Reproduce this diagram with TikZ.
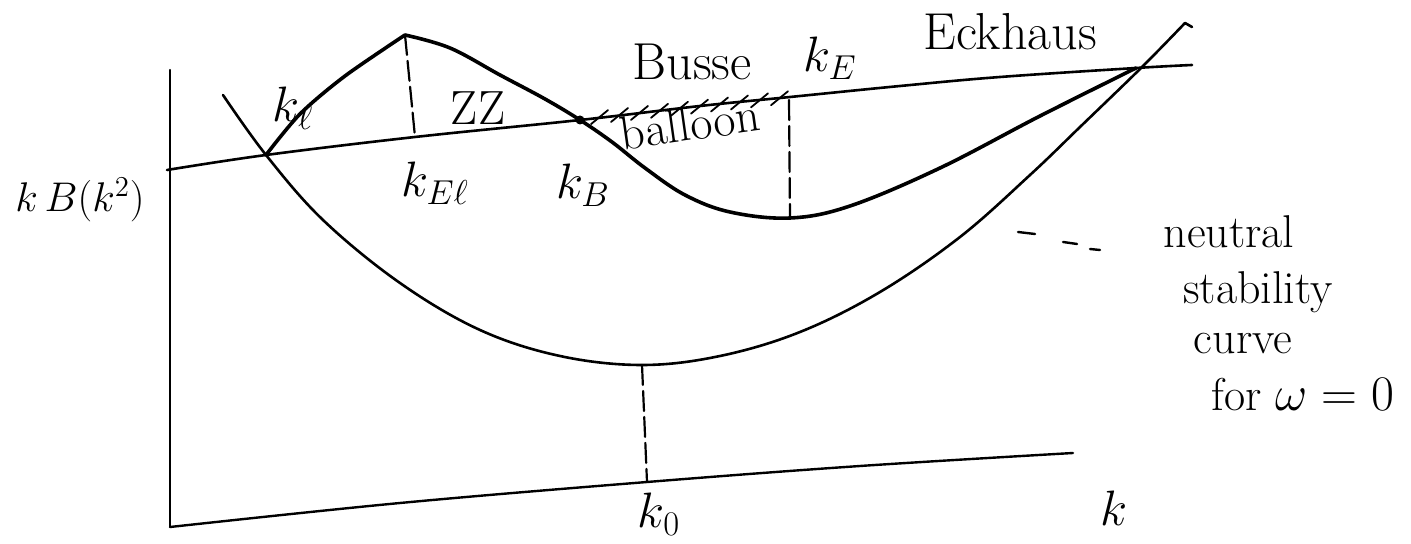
\documentclass[tikz,border=0pt]{standalone}
\begin{document}
\begin{tikzpicture}[x=0.5pt,y=-0.5pt,line cap=round,line join=round,
  ax/.style={line width=1.2pt},
  crv/.style={line width=1.3pt},
  thk/.style={line width=1.8pt},
  dsh/.style={line width=1.1pt,dash pattern=on 10pt off 3pt},
  hatch/.style={line width=0.9pt},
  lbl/.style={inner sep=0pt,font=\fontsize{24}{28}\selectfont},
  big/.style={inner sep=0pt,font=\fontsize{26}{30}\selectfont},
  note/.style={inner sep=0pt,font=\fontsize{23}{27}\selectfont}]
\useasboundingbox (0,0) rectangle (1411,544);
% key points
\coordinate (yTop) at (170,70);
\coordinate (orig) at (170,527);
\coordinate (xEnd) at (1073,453);
\coordinate (lStart) at (167,170);
\coordinate (lEnd) at (1192,65);
\coordinate (kL) at (266,155);
\coordinate (peak) at (405,35);
\coordinate (kELpt) at (415,137);
\coordinate (kBpt) at (580,120);
\coordinate (kEtop) at (789,100);
\coordinate (kEbot) at (790,218);
\coordinate (nMin) at (642,365);
\coordinate (k0pt) at (647,482);
\coordinate (meet) at (1136,68);
% axes
\draw[ax] (yTop) -- (orig);
\draw[ax] plot[smooth,tension=0.6] coordinates {(orig) (400,503) (k0pt) (860,466) (xEnd)};
% almost horizontal line
\draw[crv] plot[smooth,tension=0.6] coordinates {(lStart) (kL) (kELpt) (kBpt) (700,106) (790,97) (900,86) (1000,77) (meet) (lEnd)};
% neutral stability curve
\draw[crv] plot[smooth,tension=0.6] coordinates {(223,95) (kL) (323,220) (400,283) (480,330) (560,356) (nMin) (720,356) (800,332) (880,292) (960,237) (1030,175) (1080,127) (1142,67) (1185,23)} -- (1192,27);
% upper (Eckhaus / Busse) curve
\draw[thk] plot[smooth,tension=0.5] coordinates {(kL) (300,114) (345,76) (peak)};
\draw[thk] plot[smooth,tension=0.6] coordinates {(peak) (450,48) (500,75) (545,99) (kBpt) (612,142) (645,168) (685,195) (730,212) (kEbot) (850,206) (940,168) (1040,116) (meet)};
% dashed verticals
\draw[dsh] (peak) -- (kELpt);
\draw[dsh] (kEtop) -- (kEbot);
\draw[dsh] (nMin) -- (k0pt);
% k_B dot
\fill (kBpt) circle (4.5);
% hatching of the Busse balloon
\foreach \xx in {598,618,...,782} {
  \pgfmathsetmacro\yy{119-(\xx-580)*22/210}
  \draw[hatch] (\xx-7,\yy+7) -- (\xx+10,\yy-7);
}
% dashes to the legend
\draw[ax] (1018,232) -- (1035,234);
\draw[ax] (1063,242) -- (1077,244);
\draw[ax] (1090,249) -- (1100,250);
% labels
\node[lbl] (lkl) at (293,108) {$k_\ell$};
\node[lbl] (lzz) at (478,108) {ZZ};
\node[lbl] (lkel) at (435,183) {$k_{E\ell}$};
\node[lbl] (lkb) at (583,185) {$k_B$};
\node[lbl] (lke) at (830,58) {$k_E$};
\node[big] (lbusse) at (692,62) {Busse};
\node[big] (leck) at (1010,32) {Eckhaus};
\node[lbl,rotate=8] (lball) at (690,124) {balloon};
\node[inner sep=0pt,font=\fontsize{22}{26}\selectfont] (lyax) at (80,200) {$k\,B(k^2)$};
\node[lbl] (lk0) at (659,514) {$k_0$};
\node[font=\fontsize{32}{36}\selectfont,inner sep=0pt] (lk) at (1114,508) {$k$};
\node[note] (n1) at (1229,232) {neutral};
\node[note] (n2) at (1258,292) {stability};
\node[note] (n3) at (1243,344) {curve};
\node[note] (n4) at (1303,395) {for $\omega = 0$};
\end{tikzpicture}
\end{document}
